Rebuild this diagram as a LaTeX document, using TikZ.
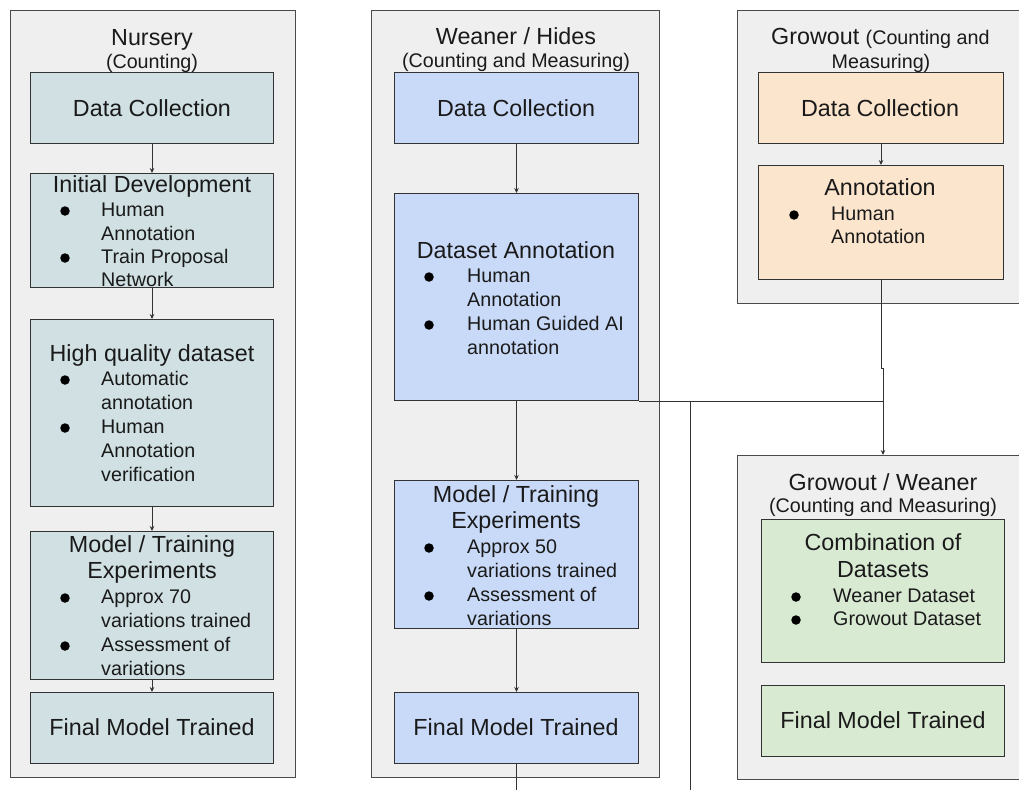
\documentclass[tikz,border=0pt]{standalone}
\usepackage{fontspec}
\setmainfont{Liberation Sans}
\usetikzlibrary{arrows.meta}
\definecolor{contfill}{HTML}{EFEFEF}
\definecolor{contline}{HTML}{4A4A4A}
\definecolor{boxline}{HTML}{333333}
\definecolor{txt}{HTML}{1A1A1A}
\definecolor{nurc}{HTML}{D0E0E3}
\definecolor{weac}{HTML}{C9DAF8}
\definecolor{groc}{HTML}{FCE5CD}
\definecolor{grnc}{HTML}{D9EAD3}
\newcommand\hdf{\fontsize{23.3}{27}\selectfont}
\newcommand\sbf{\fontsize{19.7}{24}\selectfont}
\begin{document}
\begin{tikzpicture}[x=1pt,y=-1pt,
 cont/.style={draw=contline, fill=contfill, line width=1pt, anchor=north west, inner sep=0pt},
 box/.style={draw=boxline, line width=1pt, anchor=north west, inner sep=0pt},
 hd/.style={anchor=base, inner sep=0pt, font=\hdf, text=txt},
 sb/.style={anchor=base, inner sep=0pt, font=\sbf, text=txt},
 bt/.style={anchor=base west, inner sep=0pt, font=\sbf, text=txt},
 dot/.style={circle, fill=black, inner sep=0pt, minimum size=9.5pt, yshift=5pt},
 arr/.style={draw=boxline, line width=0.9pt, -{Stealth[length=5pt,width=4.5pt]}},
 ln/.style={draw=boxline, line width=0.9pt}]
\useasboundingbox (0,0) rectangle (1019,790);
% containers
\node[cont, minimum width=285, minimum height=767] (nurs) at (10,10) {};
\node[cont, minimum width=288, minimum height=767] (wean) at (371,10) {};
\node[cont, minimum width=292, minimum height=293] (grow) at (737,10) {};
\node[cont, minimum width=292, minimum height=324] (gw) at (737,455) {};
% boxes
\node[box, fill=nurc, minimum width=243, minimum height=71] (n1) at (30,72) {};
\node[box, fill=nurc, minimum width=243, minimum height=114] (n2) at (30,173) {};
\node[box, fill=nurc, minimum width=243, minimum height=187] (n3) at (30,319) {};
\node[box, fill=nurc, minimum width=243, minimum height=148] (n4) at (30,531) {};
\node[box, fill=nurc, minimum width=243, minimum height=71] (n5) at (30,692) {};
\node[box, fill=weac, minimum width=244, minimum height=71] (w1) at (394,72) {};
\node[box, fill=weac, minimum width=244, minimum height=207] (w2) at (394,193) {};
\node[box, fill=weac, minimum width=244, minimum height=148] (w3) at (394,480) {};
\node[box, fill=weac, minimum width=244, minimum height=71] (w4) at (394,692) {};
\node[box, fill=groc, minimum width=245, minimum height=71] (g1) at (758,72) {};
\node[box, fill=groc, minimum width=245, minimum height=114] (g2) at (758,165) {};
\node[box, fill=grnc, minimum width=243, minimum height=143] (c1) at (761,519) {};
\node[box, fill=grnc, minimum width=243, minimum height=71] (c2) at (761,685) {};
% connectors
\coordinate (jog) at (883,368);
\coordinate (join) at (w2.south east -| jog);
\path (w2.south east) ++(51,0) coordinate (tap);
\coordinate (tapend) at (689,790);
\coordinate (wend) at (516,790);
\draw[arr] (n1.south) -- (n2.north);
\draw[arr] (n2.south) -- (n3.north);
\draw[arr] (n3.south) -- (n4.north);
\draw[arr] (n4.south) -- (n5.north);
\draw[arr] (w1.south) -- (w2.north);
\draw[arr] (w2.south) -- (w3.north);
\draw[arr] (w3.south) -- (w4.north);
\draw[ln] (w4.south) -- (w4.south |- wend);
\draw[arr] (g1.south) -- (g2.north);
\draw[ln] (g2.south) |- (jog) -- (join);
\draw[ln] (w2.south east) -- (join);
\draw[ln] (tap) -- (tap |- tapend);
\draw[arr] (join) -- (join |- gw.north);
% Nursery texts
\node[hd] (tn1) at (152,45) {Nursery};
\node[sb] (tn2) at (152,68) {(Counting)};
\node[hd] (tn3) at (152,116) {Data Collection};
\node[hd] (tn4) at (152,192) {Initial Development};
\node[dot] (dn1) at (65,216) {};
\node[bt] (tn5) at (101,216) {Human};
\node[bt] (tn6) at (101,240) {Annotation};
\node[dot] (dn2) at (65,263) {};
\node[bt] (tn7) at (101,263) {Train Proposal};
\node[bt] (tn8) at (101,286) {Network};
\node[hd] (tn9) at (152,361) {High quality dataset};
\node[dot] (dn3) at (65,385) {};
\node[bt] (tn10) at (101,385) {Automatic};
\node[bt] (tn11) at (101,409) {annotation};
\node[dot] (dn4) at (65,433) {};
\node[bt] (tn12) at (101,433) {Human};
\node[bt] (tn13) at (101,457) {Annotation};
\node[bt] (tn14) at (101,481) {verification};
\node[hd] (tn15) at (152,552) {Model / Training};
\node[hd] (tn16) at (152,578) {Experiments};
\node[dot] (dn5) at (65,603) {};
\node[bt] (tn17) at (101,603) {Approx 70};
\node[bt] (tn18) at (101,627) {variations trained};
\node[dot] (dn6) at (65,651) {};
\node[bt] (tn19) at (101,651) {Assessment of};
\node[bt] (tn20) at (101,675) {variations};
\node[hd] (tn21) at (152,735) {Final Model Trained};
% Weaner texts
\node[hd] (tw1) at (516,44) {Weaner / Hides};
\node[sb] (tw2) at (516,67) {(Counting and Measuring)};
\node[hd] (tw3) at (516,116) {Data Collection};
\node[hd] (tw4) at (516,258) {Dataset Annotation};
\node[dot] (dw1) at (429,282) {};
\node[bt] (tw5) at (467,282) {Human};
\node[bt] (tw6) at (467,306) {Annotation};
\node[dot] (dw2) at (429,330) {};
\node[bt] (tw7) at (467,330) {Human Guided AI};
\node[bt] (tw8) at (467,354) {annotation};
\node[hd] (tw9) at (516,502) {Model / Training};
\node[hd] (tw10) at (516,528) {Experiments};
\node[dot] (dw3) at (429,553) {};
\node[bt] (tw11) at (467,553) {Approx 50};
\node[bt] (tw12) at (467,577) {variations trained};
\node[dot] (dw4) at (429,601) {};
\node[bt] (tw13) at (467,601) {Assessment of};
\node[bt] (tw14) at (467,625) {variations};
\node[hd] (tw15) at (516,735) {Final Model Trained};
% Growout texts
\node[anchor=base west, inner sep=0pt, text=txt] (tg1) at (771,44) {\hdf Growout \sbf(Counting and};
\node[sb] (tg2) at (881,68) {Measuring)};
\node[hd] (tg3) at (880,116) {Data Collection};
\node[hd] (tg4) at (880,195) {Annotation};
\node[dot] (dg1) at (794,220) {};
\node[bt] (tg5) at (831,220) {Human};
\node[bt] (tg6) at (831,243) {Annotation};
% Growout / Weaner texts
\node[hd] (tc1) at (883,490) {Growout / Weaner};
\node[sb] (tc2) at (883,512) {(Counting and Measuring)};
\node[hd] (tc3) at (883,550) {Combination of};
\node[hd] (tc4) at (883,577) {Datasets};
\node[dot] (dc1) at (796,602) {};
\node[bt] (tc5) at (833,602) {Weaner Dataset};
\node[dot] (dc2) at (796,625) {};
\node[bt] (tc6) at (833,625) {Growout Dataset};
\node[hd] (tc7) at (883,728) {Final Model Trained};
\end{tikzpicture}
\end{document}
